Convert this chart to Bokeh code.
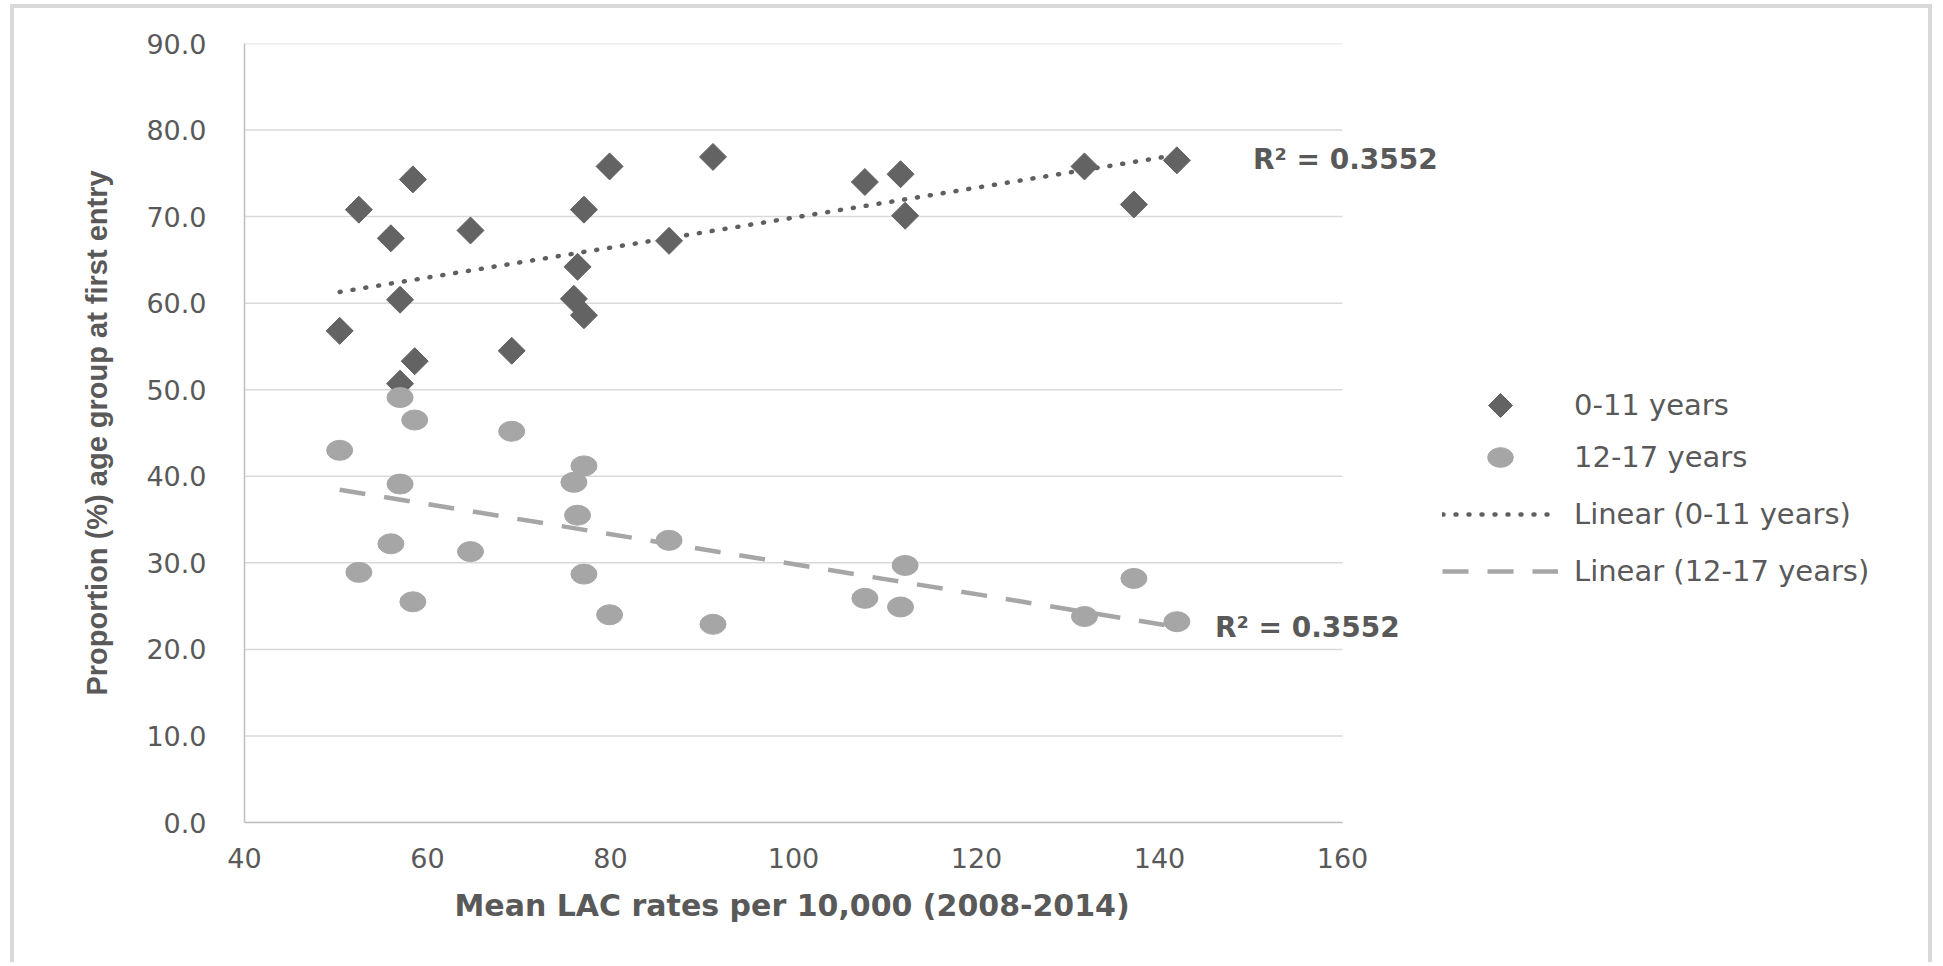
import numpy as np
from bokeh.plotting import figure
from bokeh.models import (ColumnDataSource, Legend, LegendItem, NumeralTickFormatter,
                          FixedTicker, Range1d, Label, Title, Scatter)
from bokeh.embed import file_html
from bokeh.resources import INLINE

try:
    from bokeh.models import Ngon
except ImportError:
    Ngon = None

# Mean LAC rate per 10,000 children (2008-2014) for each local authority
lac_rate = [50.4, 52.5, 56.0, 58.4, 57.0, 58.6, 57.0, 64.7, 69.2, 76.0, 76.4,
            77.1, 77.1, 79.9, 86.4, 91.2, 107.8, 111.7, 112.2, 131.8, 137.2, 141.9]
# Proportion (%) of first entries in each age group
age_0_11 = [56.8, 70.8, 67.5, 74.3, 60.4, 53.3, 50.7, 68.4, 54.5, 60.5, 64.2,
            70.8, 58.6, 75.8, 67.2, 76.9, 74.0, 74.9, 70.1, 75.8, 71.4, 76.5]
age_12_17 = [43.0, 28.9, 32.2, 25.5, 39.1, 46.5, 49.1, 31.3, 45.2, 39.3, 35.5,
             28.7, 41.2, 24.0, 32.6, 22.9, 25.9, 24.9, 29.7, 23.8, 28.2, 23.2]

series_names = ["0-11 years", "12-17 years"]
r2_labels = ["R\u00b2 = 0.3552", "R\u00b2 = 0.3552"]
x_title = "Mean LAC rates per 10,000 (2008-2014)"
y_title = "Proportion (%) age group at first entry"

x_ticks = [40, 60, 80, 100, 120, 140, 160]
y_ticks = [0, 10, 20, 30, 40, 50, 60, 70, 80, 90]

DARK = "#636363"
LIGHT = "#a6a6a6"
TEXT = "#595959"
FONT = "DejaVu Sans"

# geometry: the data area is 1098 px wide for the 40-160 span; the frame is
# widened to the right so the legend and labels there are not clipped
CANVAS_W, CANVAS_H = 1922, 958
BORDER_L, BORDER_T, BORDER_B = 230, 35, 144
AXIS_PX = 1098
frame_w = CANVAS_W - BORDER_L
x_end = x_ticks[0] + (x_ticks[-1] - x_ticks[0]) * frame_w / AXIS_PX


def linear_fit(x, y):
    k, b = np.polyfit(x, y, 1)
    xs = np.array([min(x), max(x)])
    return xs, k * xs + b


src = ColumnDataSource(dict(x=lac_rate, young=age_0_11, old=age_12_17))

p = figure(width=CANVAS_W, height=CANVAS_H,
           x_range=Range1d(x_ticks[0], x_end),
           y_range=Range1d(y_ticks[0], y_ticks[-1]),
           output_backend="svg", toolbar_location=None,
           min_border_left=BORDER_L, min_border_right=0,
           min_border_top=BORDER_T, min_border_bottom=BORDER_B)
p.styles = {"margin-left": "10px", "margin-top": "4px",
            "border-left": "4px solid #d9d9d9",
            "border-top": "4px solid #d9d9d9",
            "border-right": "4px solid #d9d9d9"}
p.background_fill_color = "white"
p.border_fill_color = "white"
p.outline_line_color = None

# axes
p.xaxis.ticker = FixedTicker(ticks=x_ticks)
p.xaxis.bounds = (x_ticks[0], x_ticks[-1])
p.yaxis.ticker = FixedTicker(ticks=y_ticks)
p.yaxis.formatter = NumeralTickFormatter(format="0.0")
for ax in (p.xaxis[0], p.yaxis[0]):
    ax.major_tick_line_color = None
    ax.minor_tick_line_color = None
    ax.major_tick_out = 0
    ax.axis_line_color = "#bfbfbf"
    ax.axis_line_width = 1.5
    ax.major_label_text_font = FONT
    ax.major_label_text_font_size = "27px"
    ax.major_label_text_color = TEXT
    ax.axis_label_text_color = TEXT
    ax.axis_label_text_font_style = "bold"
p.yaxis.major_label_standoff = 38
p.xaxis.major_label_standoff = 25

p.yaxis.axis_label = y_title
p.yaxis.axis_label_text_font = "Liberation Sans"
p.yaxis.axis_label_text_font_size = "29px"
p.yaxis.axis_label_standoff = 30

# x title centred under the 40-160 span (the frame itself is wider)
p.add_layout(Title(text=x_title, align="left", offset=210, standoff=34,
                   vertical_align="top", text_font=FONT, text_font_size="30px",
                   text_font_style="bold", text_color=TEXT), "below")

# horizontal gridlines over the 40-160 data span only
p.xgrid.visible = False
p.ygrid.visible = False
p.segment(x0=[x_ticks[0]] * len(y_ticks), x1=[x_ticks[-1]] * len(y_ticks),
          y0=y_ticks, y1=y_ticks, line_color="#d9d9d9", line_width=1.5)

# linear trend lines
fx0, fy0 = linear_fit(lac_rate, age_0_11)
fx1, fy1 = linear_fit(lac_rate, age_12_17)
r_fit0 = p.line(fx0, fy0, line_color="#5f5f5f", line_width=4.5,
                line_dash="1 12", line_cap="round")
r_fit1 = p.line(fx1, fy1, line_color=LIGHT, line_width=4.5, line_dash="26 19")

# scatter points: diamonds (4-sided regular polygon) and flat ellipses
r_young = None
if Ngon is not None:
    try:
        r_young = p.add_glyph(src, Ngon(x="x", y="young", radius=13.5,
                                        radius_units="screen", n=4,
                                        fill_color=DARK, line_color=DARK))
    except Exception:
        r_young = None
if r_young is None:
    r_young = p.add_glyph(src, Scatter(x="x", y="young", marker="square",
                                       size=18.5, angle=np.pi / 4,
                                       fill_color=DARK, line_color=DARK))
r_old = p.ellipse("x", "old", source=src, width=26, height=20,
                  width_units="screen", height_units="screen",
                  fill_color=LIGHT, line_color=LIGHT)

# R-squared labels next to the end of each trend line
p.add_layout(Label(x=fx0[-1], y=fy0[-1], x_offset=76, y_offset=-5,
                   text=r2_labels[0], text_font=FONT, text_font_style="bold",
                   text_font_size="28px", text_color=TEXT,
                   text_baseline="middle", text_align="left"))
p.add_layout(Label(x=fx1[-1], y=fy1[-1], x_offset=38, y_offset=0,
                   text=r2_labels[1], text_font=FONT, text_font_style="bold",
                   text_font_size="28px", text_color=TEXT,
                   text_baseline="middle", text_align="left"))

legend_style = dict(orientation="vertical", glyph_width=116, padding=0, margin=0,
                    label_standoff=16, border_line_color=None,
                    background_fill_alpha=0, label_text_font=FONT,
                    label_text_font_size="29px", label_text_color=TEXT)
# diamond entry gets a taller row so its marker comes out at full size
legend_a = Legend(items=[LegendItem(label=series_names[0], renderers=[r_young])],
                  location=(1198, 387), glyph_height=60, label_height=60,
                  **legend_style)
legend_b = Legend(items=[
    LegendItem(label=series_names[1], renderers=[r_old]),
    LegendItem(label="Linear (%s)" % series_names[0], renderers=[r_fit0]),
    LegendItem(label="Linear (%s)" % series_names[1], renderers=[r_fit1]),
], location=(1198, 234), glyph_height=32, label_height=32, spacing=23,
    **legend_style)
p.add_layout(legend_a)
p.add_layout(legend_b)

open("out.html", "w").write(file_html(p, INLINE))
